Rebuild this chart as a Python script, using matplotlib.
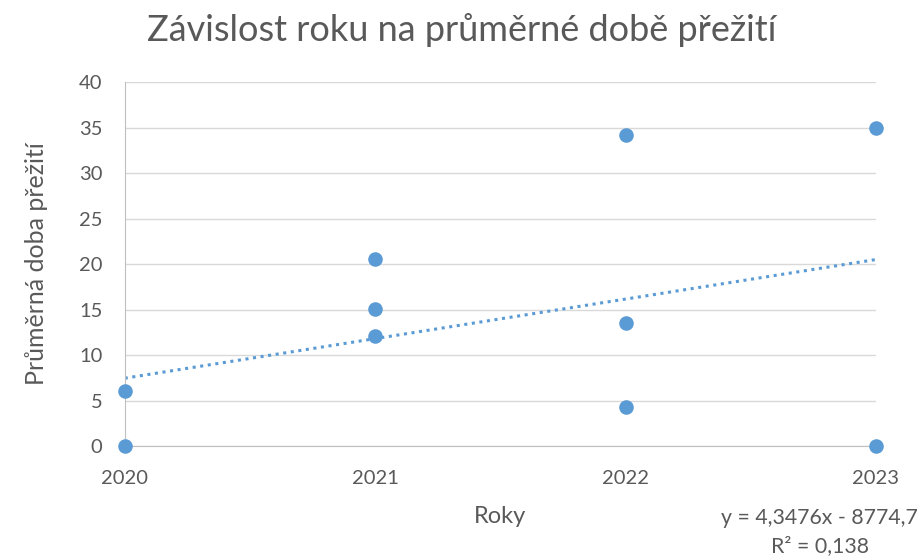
import matplotlib.pyplot as plt

plt.rcParams['font.family'] = ['Lato', 'DejaVu Sans']

# Data
years = [2020, 2020, 2021, 2021, 2021, 2022, 2022, 2022, 2023, 2023]
survival = [6.0, 0.0, 20.6, 15.1, 12.1, 34.2, 13.5, 4.3, 35.0, 0.0]

# Linear trendline as given in the chart label
slope = 4.3476
intercept = -8774.7
r2_text = "R² = 0,138"
eq_text = "y = 4,3476x - 8774,7"

x_ticks = [2020, 2021, 2022, 2023]
y_ticks = [0, 5, 10, 15, 20, 25, 30, 35, 40]

gray = '#595959'
blue = '#5B9BD5'

fig = plt.figure(figsize=(9.24, 5.58), dpi=100)
ax = fig.add_axes([0.135, 0.2007, 0.813, 0.6523])

# trendline
tx = [x_ticks[0], x_ticks[-1]]
ty = [slope * x + intercept for x in tx]
ax.plot(tx, ty, linestyle=(0, (1, 1.5)), color=blue, linewidth=2.2, zorder=2)

ax.scatter(years, survival, s=110, color=blue, zorder=3, clip_on=False, linewidths=0)

ax.set_xlim(2020, 2023)
ax.set_ylim(0, 40)
ax.set_xticks(x_ticks)
ax.set_yticks(y_ticks)
ax.set_xticklabels([str(y) for y in x_ticks])
ax.grid(axis='y', color='#d9d9d9', linewidth=1)
ax.set_axisbelow(True)

for s in ['top', 'right']:
    ax.spines[s].set_visible(False)
ax.spines['left'].set_color('#bfbfbf')
ax.spines['bottom'].set_color('#bfbfbf')
ax.tick_params(length=0, labelsize=14.5, colors=gray)
ax.tick_params(axis='y', pad=16)
ax.tick_params(axis='x', pad=17)

fig.text(0.5, 0.946, "Závislost roku na průměrné době přežití", fontsize=26, color=gray,
         ha='center', va='center')
ax.set_xlabel("Roky", fontsize=17, color=gray, labelpad=14)
ax.set_ylabel("Průměrná doba přežití", fontsize=18, color=gray, labelpad=22)

fig.text(0.887, 0.071, eq_text, fontsize=15.3, color=gray, ha='center', va='center')
fig.text(0.887, 0.022, r2_text, fontsize=15.3, color=gray, ha='center', va='center')

fig.savefig('out.png', dpi=100)
